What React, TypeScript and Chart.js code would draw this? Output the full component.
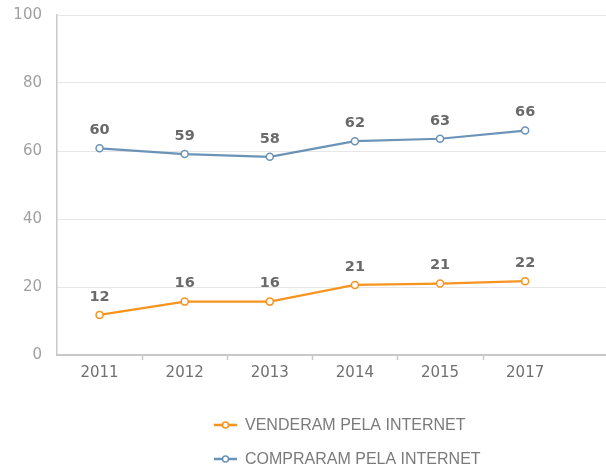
import React, { useEffect, useRef } from "react";
import { Chart, registerables } from "chart.js";

Chart.register(...registerables);

const years = ["2011", "2012", "2013", "2014", "2015", "2017"];
const sold = [11.8, 15.7, 15.7, 20.6, 21.0, 21.7];
const soldLabels = ["12", "16", "16", "21", "21", "22"];
const bought = [60.8, 59.1, 58.3, 62.9, 63.6, 66.0];
const boughtLabels = ["60", "59", "58", "62", "63", "66"];
const seriesNames = ["VENDERAM PELA INTERNET", "COMPRARAM PELA INTERNET"];
const yTicks = [0, 20, 40, 60, 80, 100];

const ORANGE = "#f7931e";
const BLUE = "#6b93b7";
const AXIS = "#c8c8c8";

const valueLabelPlugin = {
  id: "valueLabels",
  afterDatasetsDraw(chart: any) {
    const ctx = chart.ctx;
    ctx.save();
    ctx.font = "bold 14.5px 'DejaVu Sans'";
    ctx.fillStyle = "#6a6a6a";
    ctx.textAlign = "center";
    ctx.textBaseline = "middle";
    chart.data.datasets.forEach((ds: any, di: number) => {
      const meta = chart.getDatasetMeta(di);
      meta.data.forEach((pt: any, i: number) => {
        ctx.fillText(ds.valueLabels[i], pt.x, pt.y - 18);
      });
    });
    ctx.restore();
  },
};

const tickMarkPlugin = {
  id: "xTickMarks",
  afterDraw(chart: any) {
    const x = chart.scales.x;
    const ctx = chart.ctx;
    const bottom = chart.chartArea.bottom;
    ctx.save();
    ctx.strokeStyle = AXIS;
    ctx.lineWidth = 1.5;
    for (let i = 0; i < years.length - 1; i++) {
      const px = Math.round(x.getPixelForValue(i + 0.5)) + 0.5;
      ctx.beginPath();
      ctx.moveTo(px, bottom);
      ctx.lineTo(px, bottom + 5);
      ctx.stroke();
    }
    ctx.restore();
  },
};

const legendPlugin = {
  id: "stackedLegend",
  afterDraw(chart: any) {
    const ctx = chart.ctx;
    const left = 214;
    const rows = [425, 459];
    ctx.save();
    ctx.font = "16px 'Liberation Sans'";
    ctx.textAlign = "left";
    ctx.textBaseline = "middle";
    chart.data.datasets.forEach((ds: any, i: number) => {
      const y = rows[i];
      ctx.strokeStyle = ds.borderColor;
      ctx.lineWidth = 2.5;
      ctx.beginPath();
      ctx.moveTo(left, y);
      ctx.lineTo(left + 23, y);
      ctx.stroke();
      ctx.beginPath();
      ctx.arc(left + 11.5, y, 3, 0, Math.PI * 2);
      ctx.fillStyle = "#ffffff";
      ctx.fill();
      ctx.lineWidth = 1.5;
      ctx.stroke();
      ctx.fillStyle = "#7a7a7a";
      ctx.fillText(ds.label, left + 31, y + 1);
    });
    ctx.restore();
  },
};

export default function App() {
  const ref = useRef<HTMLCanvasElement | null>(null);

  useEffect(() => {
    if (!ref.current) return;
    const mk = (vals: number[]) => vals.map((v, i) => ({ x: i, y: v }));
    const chart = new Chart(ref.current, {
      type: "line",
      data: {
        datasets: [
          {
            label: seriesNames[0],
            data: mk(sold),
            valueLabels: soldLabels,
            borderColor: ORANGE,
            backgroundColor: "#ffffff",
            pointBackgroundColor: "#ffffff",
            pointBorderColor: ORANGE,
            borderWidth: 2.2,
            pointRadius: 3.5,
            pointBorderWidth: 1.5,
            tension: 0,
          } as any,
          {
            label: seriesNames[1],
            data: mk(bought),
            valueLabels: boughtLabels,
            borderColor: BLUE,
            backgroundColor: "#ffffff",
            pointBackgroundColor: "#ffffff",
            pointBorderColor: BLUE,
            borderWidth: 2.2,
            pointRadius: 3.5,
            pointBorderWidth: 1.5,
            tension: 0,
          } as any,
        ],
      },
      options: {
        responsive: false,
        animation: false,
        layout: { autoPadding: false, padding: { top: 15, right: 0, left: 0, bottom: 0 } },
        plugins: {
          legend: { display: false },
          tooltip: { enabled: false },
        },
        scales: {
          x: {
            type: "linear",
            min: -0.5,
            max: 5.95,
            afterBuildTicks: (s: any) => {
              s.ticks = years.map((_, i) => ({ value: i }));
            },
            afterFit: (s: any) => {
              s.height = 117;
              s.paddingLeft = 0;
              s.paddingRight = 0;
            },
            ticks: {
              callback: (v: any) => years[v] ?? "",
              font: { family: "'DejaVu Sans'", size: 15 },
              color: "#707070",
              padding: 9,
              maxRotation: 0,
              autoSkip: false,
            },
            grid: { display: false, drawTicks: false },
            border: { display: true, color: AXIS, width: 2 },
          },
          y: {
            min: 0,
            max: 100,
            afterBuildTicks: (s: any) => {
              s.ticks = yTicks.map((v) => ({ value: v }));
            },
            afterFit: (s: any) => {
              s.width = 57;
              s.paddingTop = 0;
              s.paddingBottom = 0;
            },
            ticks: {
              font: { family: "'DejaVu Sans'", size: 15 },
              color: "#a0a0a0",
              padding: 15,
            },
            grid: { color: "#e6e6e6", lineWidth: 1, drawTicks: false },
            border: { display: true, color: AXIS, width: 1.5 },
          },
        },
      } as any,
      plugins: [valueLabelPlugin, tickMarkPlugin, legendPlugin],
    });
    return () => chart.destroy();
  }, []);

  return (
    <div style={{ position: "absolute", left: 0, top: 0, width: 606, height: 472, background: "#ffffff" }}>
      <canvas ref={ref} width={606} height={472} style={{ display: "block" }} />
    </div>
  );
}
